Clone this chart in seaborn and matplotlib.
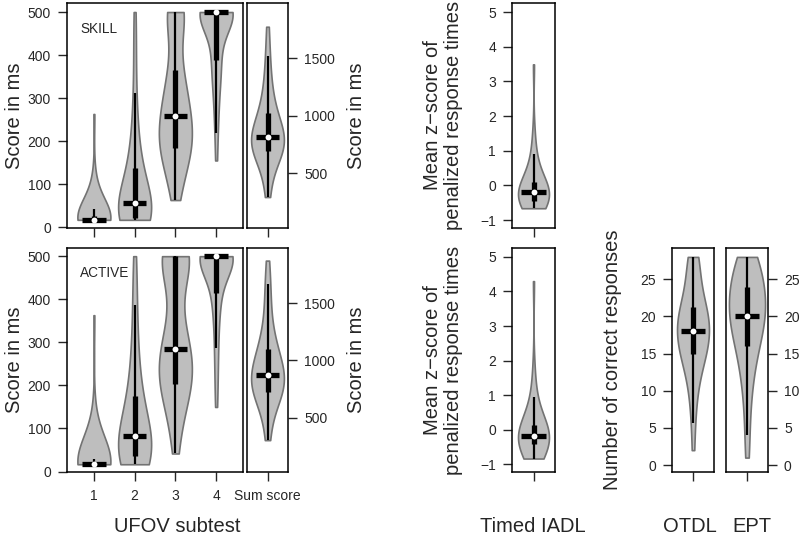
import numpy as np
import matplotlib
matplotlib.use("Agg")
import matplotlib.pyplot as plt
import seaborn as sns

sns.set_style("ticks")
plt.rcParams['font.family'] = ['Liberation Sans', 'DejaVu Sans']

# --- data ---
ufov_labels = ["1", "2", "3", "4"]

u1_skill = [17] * 28 + [20, 25, 33, 40, 47, 53, 60, 67, 77, 90, 120, 263]
u2_skill = [17] * 10 + [20, 23, 27, 30, 33, 37, 40, 43, 47, 50, 53, 57, 60, 67, 73, 80, 90, 100,
                        110, 117, 130, 140, 150, 167, 183, 200, 233, 267, 300, 367, 433, 500]
u3_skill = [63, 90, 100, 120, 140, 155, 165, 170, 175, 180, 185, 195, 200, 210, 215, 220, 230, 240,
            250, 255, 260, 270, 280, 290, 300, 310, 325, 340, 355, 360, 380, 420, 470] + [500] * 7
u4_skill = [155, 213, 250, 280, 305, 325, 345, 360, 370, 380, 390, 405, 420, 440, 460, 480, 490] + [500] * 23
sum_skill = [295, 330, 470, 530, 570, 610, 640, 660, 675, 685, 700, 715, 730, 745, 760, 775, 790, 800,
             800, 810, 825, 840, 855, 870, 890, 910, 935, 960, 990, 1020, 1040, 1080, 1120, 1170, 1230,
             1300, 1380, 1480, 1600, 1774]

u1_active = [17] * 29 + [20, 27, 35, 43, 52, 60, 70, 82, 97, 130, 363]
u2_active = [17] * 6 + [20, 25, 30, 35, 40, 45, 50, 55, 60, 65, 70, 75, 80, 85, 90, 100, 110, 120, 130,
                       140, 150, 165, 180, 195, 215, 240, 270, 300, 340, 390, 440, 500]
u3_active = [42, 80, 110, 135, 155, 170, 180, 190, 195, 200, 205, 215, 225, 235, 245, 255, 262, 270,
             278, 282, 285, 295, 310, 330, 350, 375, 400, 430, 470] + [500] * 11
u4_active = [150, 200, 240, 275, 305, 335, 360, 380, 395, 405, 418, 430, 445, 460, 475, 485, 495] + [500] * 23
sum_active = [304, 340, 500, 560, 610, 650, 680, 700, 710, 715, 730, 750, 770, 790, 810, 830, 845, 860,
              865, 870, 875, 890, 910, 935, 960, 990, 1020, 1050, 1080, 1100, 1110, 1150, 1200, 1260,
              1330, 1420, 1520, 1620, 1720, 1870]

iadl_skill = [-0.66, -0.64, -0.62, -0.6, -0.57, -0.54, -0.51, -0.49, -0.47, -0.46, -0.44, -0.42, -0.39,
              -0.36, -0.33, -0.3, -0.27, -0.25, -0.23, -0.21, -0.2, -0.18, -0.15, -0.12, -0.09, -0.06,
              -0.03, 0.01, 0.05, 0.09, 0.12, 0.2, 0.3, 0.42, 0.56, 0.72, 0.9, 1.15, 1.6, 3.49]
iadl_active = [-0.84, -0.8, -0.75, -0.7, -0.65, -0.6, -0.55, -0.5, -0.47, -0.44, -0.42, -0.39, -0.36,
               -0.33, -0.3, -0.27, -0.25, -0.23, -0.21, -0.19, -0.18, -0.15, -0.12, -0.09, -0.06, -0.03,
               0.0, 0.04, 0.08, 0.12, 0.15, 0.22, 0.32, 0.45, 0.6, 0.78, 1.0, 1.3, 1.8, 4.3]

otdl = [2, 6, 8, 10, 11, 12, 13, 14, 14, 15, 15, 15, 16, 16, 16, 17, 17, 18, 18, 18, 18, 19, 19, 19,
        20, 20, 20, 21, 21, 21, 22, 22, 23, 24, 25, 26, 27, 28, 28, 28]
ept = [1, 4, 7, 9, 11, 12, 13, 14, 15, 16, 16, 17, 17, 18, 18, 19, 19, 20, 20, 20, 20, 21, 21, 22,
       22, 22, 23, 23, 24, 24, 24, 25, 25, 26, 26, 27, 27, 28, 28, 28]

FILL = "#bebebe"
EDGE = "#737373"
W, H = 800, 535
TICK = 10
LAB = 14.5

fig = plt.figure(figsize=(W / 100, H / 100), dpi=100)


def px_axes(x0, y0, x1, y1):
    return fig.add_axes([x0 / W, 1 - y1 / H, (x1 - x0) / W, (y1 - y0) / H])


def box_stats(v):
    v = np.asarray(v, float)
    q1, med, q3 = np.percentile(v, [25, 50, 75])
    iqr = q3 - q1
    return max(q1 - 1.5 * iqr, v.min()), q1, med, q3, min(q3 + 1.5 * iqr, v.max())


def violins(ax, groups, labels, width, bar_half, bws):
    for i, (lab, vals) in enumerate(zip(labels, groups)):
        sns.violinplot(x=[lab] * len(vals), y=vals, order=labels, ax=ax, cut=0, inner=None,
                       density_norm="width", width=width, color=FILL, linecolor=EDGE,
                       linewidth=1.2, bw_adjust=bws[i], saturation=1)
        lo, q1, med, q3, hi = box_stats(vals)
        ax.vlines(i, lo, hi, color="black", lw=1.6, zorder=3)
        ax.vlines(i, q1, q3, color="black", lw=3.8, zorder=3)
        ax.hlines(med, i - bar_half, i + bar_half, color="black", lw=3.8, zorder=4)
        ax.scatter([i], [med], s=18, color="white", linewidths=0, zorder=5)
    ax.set_xlabel("")
    ax.set_ylabel("")


def style(ax, xlabels, show_x, right=False):
    for s in ax.spines.values():
        s.set_visible(True)
        s.set_linewidth(1.1)
        s.set_color("black")
    ax.set_xticks(range(len(xlabels)))
    ax.set_xticklabels(xlabels)
    ax.tick_params(axis="x", length=6.5, width=1, pad=6, labelsize=TICK, labelbottom=show_x)
    ax.tick_params(axis="y", length=6.5, width=1, pad=5, labelsize=TICK)
    if right:
        ax.yaxis.tick_right()
        ax.tick_params(axis="y", left=False, right=True, labelleft=False, labelright=True)


rows = [(u1_skill, u2_skill, u3_skill, u4_skill, sum_skill, iadl_skill, 3, 228, "SKILL"),
        (u1_active, u2_active, u3_active, u4_active, sum_active, iadl_active, 248, 472, "ACTIVE")]

for r, (a, b, c, d, s, z, y0, y1, name) in enumerate(rows):
    bottom = r == 1
    ax = px_axes(67, y0, 243, y1)
    violins(ax, [a, b, c, d], ufov_labels, 0.81, 0.29, [2.0, 1.1, 0.9, 1.0])
    ax.set_xlim(-0.66, 3.66)
    ax.set_ylim((-2, 521) if r == 0 else (-1, 519))
    ax.set_yticks([0, 100, 200, 300, 400, 500])
    style(ax, ufov_labels, bottom)
    ax.text(0.075, 0.885 if r == 0 else 0.89, name, transform=ax.transAxes, fontsize=9.8,
            va="center", ha="left")

    ax = px_axes(247, y0, 288, y1)
    violins(ax, [s], ["Sum score"], 0.8, 0.29, [1.0])
    ax.set_xlim(-0.5, 0.5)
    ax.set_ylim(26, 1980)
    ax.set_yticks([500, 1000, 1500])
    style(ax, ["Sum score"], bottom, right=True)

    ax = px_axes(512, y0, 555, y1)
    violins(ax, [z], ["Timed IADL"], 0.72, 0.28, [1.3])
    ax.set_xlim(-0.5, 0.5)
    ax.set_ylim(-1.23, 5.26)
    ax.set_yticks([-1, 0, 1, 2, 3, 4, 5])
    ax.set_yticklabels(["\u22121", "0", "1", "2", "3", "4", "5"])
    style(ax, [""], False)

    yc = 1 - (y0 + y1) / 2 / H
    fig.text(15 / W, yc, "Score in ms", rotation=90, ha="center", va="center", fontsize=LAB)
    fig.text(357 / W, yc, "Score in ms", rotation=90, ha="center", va="center", fontsize=LAB)
    fig.text(443 / W, yc, "Mean z\u2212score of\npenalized response times", rotation=90,
             ha="center", va="center", fontsize=LAB, linespacing=1.15, multialignment="center")

ax = px_axes(672, 248, 714, 472)
violins(ax, [otdl], ["OTDL"], 0.76, 0.285, [1.0])
ax.set_xlim(-0.5, 0.5)
ax.set_ylim(-0.94, 29.2)
ax.set_yticks([0, 5, 10, 15, 20, 25])
style(ax, [""], False)

ax = px_axes(726, 248, 768, 472)
violins(ax, [ept], ["EPT"], 0.86, 0.285, [1.0])
ax.set_xlim(-0.5, 0.5)
ax.set_ylim(-0.94, 29.2)
ax.set_yticks([0, 5, 10, 15, 20, 25])
style(ax, [""], False, right=True)

fig.text(612 / W, 1 - 360 / H, "Number of correct responses", rotation=90, ha="center",
         va="center", fontsize=LAB)

yb = 1 - 527 / H
fig.text(177 / W, yb, "UFOV subtest", ha="center", va="center", fontsize=LAB)
fig.text(533 / W, yb, "Timed IADL", ha="center", va="center", fontsize=LAB)
fig.text(690 / W, yb, "OTDL", ha="center", va="center", fontsize=LAB)
fig.text(752 / W, yb, "EPT", ha="center", va="center", fontsize=LAB)

fig.savefig("out.png", dpi=100)
